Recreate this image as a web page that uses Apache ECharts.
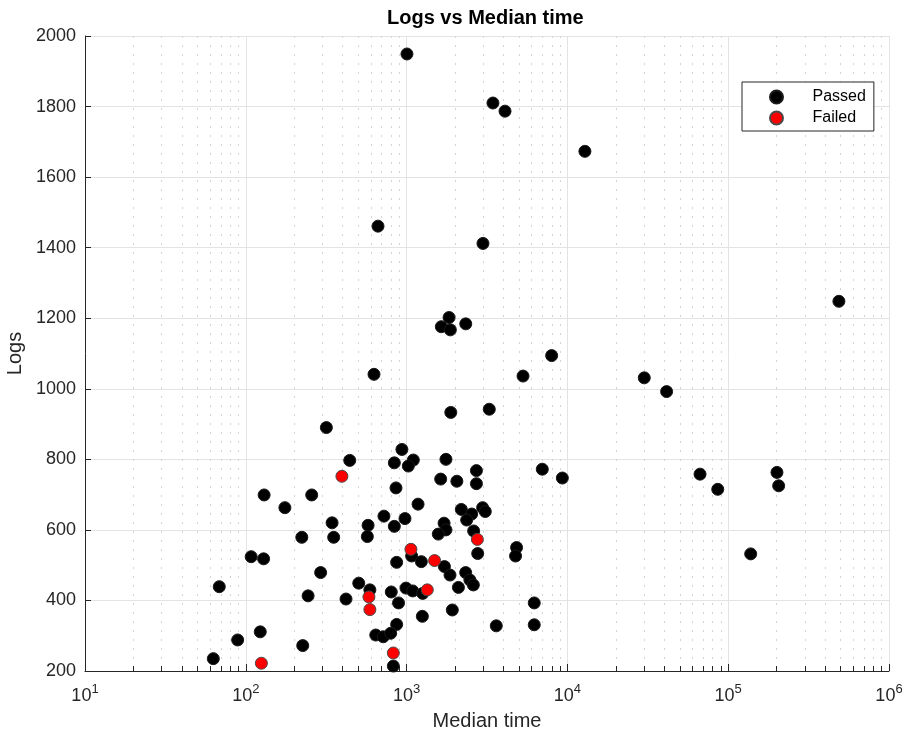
<!DOCTYPE html>
<html>
<head>
<meta charset="utf-8">
<script src="https://cdn.jsdelivr.net/npm/echarts@6/dist/echarts.min.js"></script>
<style>
html,body{margin:0;padding:0;background:#fff;}
#chart{width:905px;height:733px;}
</style>
</head>
<body>
<div id="chart"></div>
<script>
// Passed runs: median time and log count
const passedTime = [1005, 3443, 4093, 12850, 664, 2985, 488000, 1837, 1644, 1871, 2333, 627, 5297, 7980, 30060, 41400, 9300, 66800, 86100, 201000, 206000, 138000, 1883, 3267, 317, 935, 443, 839, 1101, 1025, 1757, 2718, 2718, 1629, 2054, 6980, 257, 859, 1178, 2189, 2540, 2364, 2970, 3085, 723, 977, 344, 576, 839, 1710, 1757, 1574, 2612, 2768, 223, 352, 570, 4830, 4760, 1075, 1235, 867, 1719, 1862, 2330, 2476, 2601, 2100, 292, 504, 591, 244, 420, 803, 991, 1091, 1259, 891, 1253, 1924, 6220, 6220, 3611, 867, 643, 716, 796, 226, 827, 130, 175, 108, 129, 68.4, 123, 89, 62.8];
const passedLogs = [1949, 1810, 1787, 1673, 1461, 1412, 1248, 1202, 1176, 1167, 1184, 1041, 1036, 1094, 1031, 992, 747, 758, 715, 763, 725, 532, 933, 942, 890, 828, 797, 790, 798, 781, 800, 768, 731, 744, 738, 772, 699, 719, 673, 658, 645, 628, 663, 652, 639, 632, 620, 613, 610, 619, 600, 588, 597, 533, 579, 579, 581, 550, 526, 526, 510, 508, 496, 472, 479, 458, 444, 437, 479, 449, 430, 413, 404, 424, 435, 427, 420, 393, 355, 373, 393, 331, 328, 332, 302, 297, 307, 272, 214, 699, 663, 524, 518, 439, 311, 288, 235];
// Failed runs
const failedTime = [125, 396, 583, 591, 827, 1064, 1345, 1493, 2754];
const failedLogs = [222, 752, 410, 374, 251, 545, 430, 513, 573];
// Axis ticks
const xMajorTicks = [10, 100, 1000, 10000, 100000, 1000000];
const xMinorTicks = [];
for (let d = 10; d < 1000000; d *= 10) { for (let k = 2; k <= 9; k++) xMinorTicks.push(k * d); }
const yMin = 200, yMax = 2000, yStep = 200;

const passedData = passedTime.map((t, i) => [t, passedLogs[i]]);
const failedData = failedTime.map((t, i) => [t, failedLogs[i]]);

const FONT = '"Liberation Sans", Arial, Helvetica, sans-serif';
const DARK = '#262626';

const chart = echarts.init(document.getElementById('chart'), null, {renderer: 'canvas'});
chart.setOption({
  animation: false,
  backgroundColor: '#fff',
  textStyle: {fontFamily: FONT},
  title: {
    text: 'Logs vs Median time',
    left: 387, top: 8, padding: 0,
    textStyle: {fontFamily: FONT, fontSize: 20, fontWeight: 'bold', color: '#000'}
  },
  grid: {left: 85, right: 16, top: 36, bottom: 62, containLabel: false, outerBoundsMode: 'none'},
  legend: {
    orient: 'vertical',
    left: 742, top: 82,
    padding: [7, 8, 5, 27],
    itemWidth: 62, itemHeight: 13, itemGap: 5,
    borderColor: DARK, borderWidth: 1, backgroundColor: '#fff',
    textStyle: {fontFamily: FONT, fontSize: 16, color: '#000'},
    data: ['Passed', 'Failed'],
    selectedMode: false
  },
  xAxis: [{
    type: 'log', logBase: 10, min: 10, max: 1000000, splitNumber: 5,
    name: 'Median time', nameLocation: 'middle', nameGap: 40,
    nameTextStyle: {fontFamily: FONT, fontSize: 20, color: DARK},
    axisLine: {show: true, lineStyle: {color: DARK, width: 1}},
    axisTick: {show: true, inside: true, length: 7, lineStyle: {color: DARK}, customValues: xMajorTicks},
    axisLabel: {
      show: true, margin: 12, color: DARK, customValues: xMajorTicks,
      formatter: function (v) { return '{b|10}{s|' + Math.round(Math.log10(v)) + '}'; },
      rich: {
        b: {fontFamily: FONT, fontSize: 18, color: DARK, verticalAlign: 'bottom'},
        s: {fontFamily: FONT, fontSize: 13, color: DARK, verticalAlign: 'bottom', padding: [0, 0, 9, 0]}
      }
    },
    splitLine: {show: true, lineStyle: {color: '#e3e3e3', width: 1}}
  }, {
    type: 'log', logBase: 10, min: 10, max: 1000000, gridIndex: 0, position: 'bottom',
    axisLine: {show: false},
    axisLabel: {show: false},
    axisTick: {show: true, inside: true, length: 5, lineStyle: {color: DARK}, customValues: xMinorTicks},
    splitLine: {show: true, customValues: xMinorTicks, lineStyle: {color: '#d4d4d4', width: 1, type: [2, 7]}}
  }],
  yAxis: {
    type: 'value', min: yMin, max: yMax, interval: yStep,
    name: 'Logs', nameLocation: 'middle', nameGap: 55, nameRotate: 90,
    nameTextStyle: {fontFamily: FONT, fontSize: 20, color: DARK},
    axisLine: {show: true, lineStyle: {color: DARK, width: 1}},
    axisTick: {show: true, inside: true, length: 6, lineStyle: {color: DARK}},
    axisLabel: {show: true, margin: 9, fontFamily: FONT, fontSize: 18, color: DARK,
      formatter: function (v) { return String(v); }},
    splitLine: {show: true, lineStyle: {color: '#e3e3e3', width: 1}}
  },
  series: [{
    name: 'Passed', type: 'scatter', xAxisIndex: 0, yAxisIndex: 0,
    symbol: 'circle', symbolSize: 12,
    itemStyle: {color: '#000', borderColor: '#1a1a1a', borderWidth: 1, opacity: 1},
    emphasis: {disabled: true},
    data: passedData, z: 3
  }, {
    name: 'Failed', type: 'scatter', xAxisIndex: 0, yAxisIndex: 0,
    symbol: 'circle', symbolSize: 12,
    itemStyle: {color: '#ff0000', borderColor: '#4a4a4a', borderWidth: 1, opacity: 1},
    emphasis: {disabled: true},
    data: failedData, z: 4
  }]
});
</script>
</body>
</html>
